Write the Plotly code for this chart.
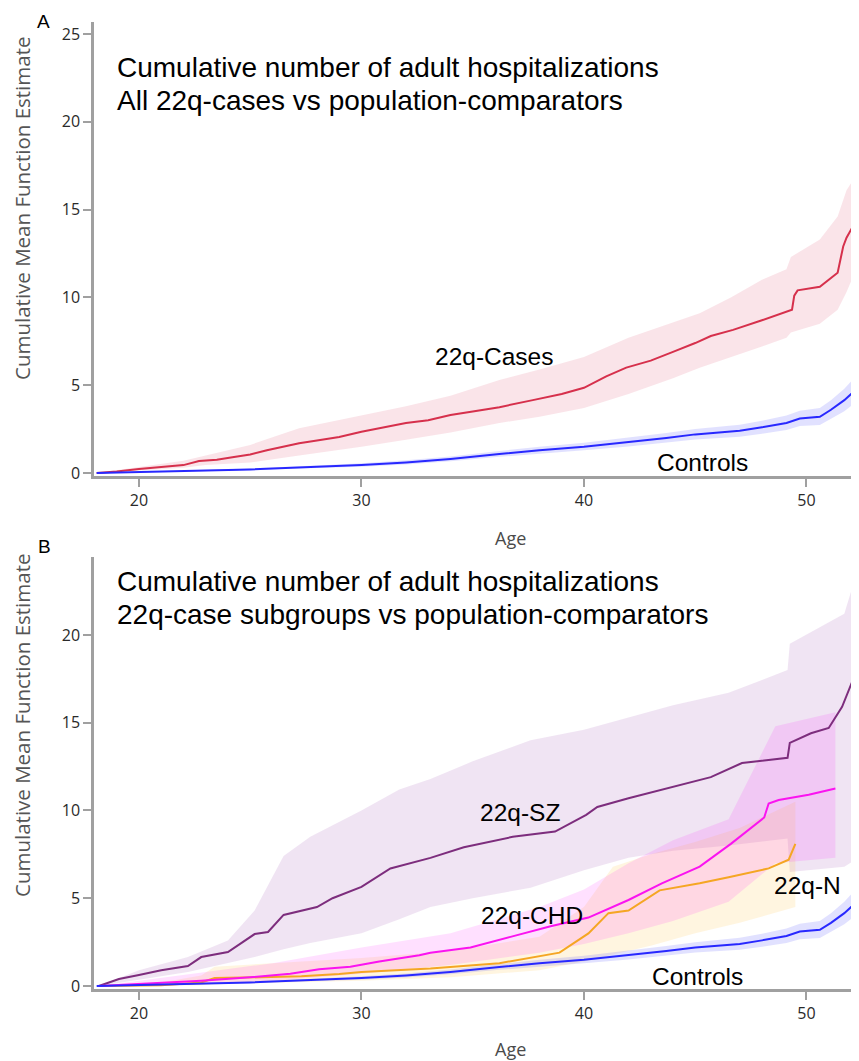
import plotly.graph_objects as go

# page is 859x1061; the html body has an 8px margin, so the figure is 8px smaller on each axis
OFF = 8
W, H = 859 - OFF, 1061 - OFF

# ---------------- Panel A data ----------------
cases_age = [18.1, 19, 20, 21, 22, 22.7, 23.5, 24.2, 25, 25.75, 26.5, 27.2, 28, 29, 30, 31, 32, 33, 34, 35,
             36.2, 37.7, 39, 40, 41, 41.9, 43, 44, 45, 45.7, 46.7, 48, 49.1, 49.35, 49.45, 49.6, 50.6, 51.2,
             51.4, 51.65, 51.8, 52.2]
cases_mean = [0, 0.08, 0.23, 0.32, 0.45, 0.68, 0.75, 0.9, 1.05, 1.3, 1.5, 1.7, 1.85, 2.05, 2.35, 2.6, 2.85, 3.0,
              3.3, 3.5, 3.75, 4.15, 4.5, 4.85, 5.5, 6.0, 6.4, 6.9, 7.4, 7.8, 8.15, 8.7, 9.2, 9.3, 10.1, 10.4,
              10.6, 11.2, 11.4, 12.9, 13.4, 14.3]
cases_band_age = [18.1, 20, 22, 23, 25, 27.2, 30, 32, 34, 36.2, 38, 40, 42, 44, 45.2, 46.6, 48, 49.1, 49.3,
                  50.6, 51.4, 51.8, 52.2]
cases_upper = [0, 0.35, 0.7, 1.0, 1.6, 2.55, 3.3, 3.8, 4.4, 5.3, 5.9, 6.6, 7.7, 8.6, 9.1, 10.0, 11.0, 11.6,
               12.3, 13.3, 14.6, 16.1, 16.9]
cases_lower = [0, 0.15, 0.3, 0.45, 0.6, 1.0, 1.5, 1.9, 2.3, 2.85, 3.2, 3.7, 4.5, 5.4, 6.0, 6.6, 7.2, 7.7, 8.0,
               8.5, 9.3, 10.3, 11.5]

ctrl_age = [18.1, 20, 22, 25, 28, 30, 32, 34, 36.2, 38, 40, 42, 43.7, 45, 47, 48, 49.1, 49.7, 50.6, 51.1, 51.7, 52.35]
ctrl_mean = [0, 0.05, 0.1, 0.2, 0.35, 0.45, 0.6, 0.8, 1.08, 1.3, 1.5, 1.75, 2.0, 2.2, 2.4, 2.6, 2.85, 3.1, 3.2,
             3.6, 4.15, 4.9]
ctrl_upper = [0, 0.07, 0.14, 0.26, 0.43, 0.55, 0.72, 0.94, 1.25, 1.5, 1.72, 2.0, 2.28, 2.5, 2.75, 2.98, 3.28,
              3.55, 3.7, 4.15, 4.8, 5.7]
ctrl_lower = [0, 0.03, 0.07, 0.15, 0.28, 0.36, 0.49, 0.67, 0.92, 1.11, 1.29, 1.51, 1.73, 1.91, 2.07, 2.24, 2.45,
              2.67, 2.73, 3.07, 3.52, 4.15]

# ---------------- Panel B data ----------------
sz_age = [18.2, 19.1, 20, 21, 22.2, 22.8, 24, 25.2, 25.8, 26.5, 28, 28.7, 30, 31.3, 33.1, 34.6, 36.8, 38.7,
          40.1, 40.6, 42, 43.5, 45, 45.7, 47.1, 49.15, 49.25, 50.2, 51, 51.6, 52.2]
sz_mean = [0, 0.4, 0.63, 0.9, 1.14, 1.65, 1.94, 2.96, 3.08, 4.05, 4.5, 5.0, 5.65, 6.7, 7.3, 7.9, 8.5, 8.8, 9.75,
           10.2, 10.7, 11.2, 11.7, 11.9, 12.7, 13.0, 13.85, 14.4, 14.7, 15.9, 17.8]
sz_band_age = [18.2, 20, 22.2, 24, 25.2, 26.5, 27.7, 30, 31.7, 33.1, 35, 37.6, 40, 42, 44, 46.5, 49.15, 49.25,
               51.7, 52.2]
sz_upper = [0, 0.9, 1.65, 2.6, 4.3, 7.4, 8.5, 10.0, 11.2, 11.8, 12.8, 14.0, 14.6, 15.3, 16.0, 16.7, 18.0, 19.5,
            21.2, 23.3]
sz_lower = [0, 0.35, 0.8, 1.3, 1.65, 2.1, 2.45, 3.0, 3.8, 4.5, 5.0, 5.6, 6.6, 7.3, 7.7, 8.0, 8.4, 6.5, 6.8, 7.2]

chd_age = [18.2, 21, 22.8, 25, 26.8, 28.1, 29.5, 30.8, 32.6, 33.1, 34.9, 36.7, 38.5, 40.2, 42, 43.5, 45.2, 46.6,
           48.1, 48.3, 48.75, 50.1, 51.3]
chd_mean = [0, 0.17, 0.3, 0.5, 0.7, 0.95, 1.1, 1.4, 1.75, 1.9, 2.2, 2.8, 3.4, 3.9, 4.9, 5.85, 6.8, 8.1, 9.6,
            10.4, 10.6, 10.9, 11.25]
chd_band_age = [18.2, 21, 23, 26, 30, 34, 38, 40, 42, 44, 46.5, 48.6, 51.3]
chd_upper = [0, 0.45, 0.8, 1.3, 2.2, 3.0, 4.5, 5.5, 7.0, 8.3, 9.5, 14.8, 15.6]
chd_lower = [0, 0.03, 0.1, 0.3, 0.7, 1.2, 1.9, 2.4, 3.0, 3.7, 4.8, 7.0, 7.3]

n_age = [18.2, 21, 22.8, 23.4, 25.5, 27.3, 29, 30, 33.1, 36.2, 38.9, 40.2, 41.1, 42, 43.4, 45.2, 46.5, 48.3,
         49.2, 49.5]
n_mean = [0, 0.05, 0.2, 0.45, 0.5, 0.55, 0.68, 0.8, 1.0, 1.3, 1.9, 3.0, 4.15, 4.3, 5.45, 5.85, 6.2, 6.7, 7.2, 8.1]
n_band_age = [18.2, 21, 22.8, 23.4, 26, 30, 34, 38, 40, 41.3, 43, 45, 47, 49.5]
n_upper = [0, 0.2, 0.6, 1.1, 1.3, 1.6, 2.0, 2.8, 4.5, 6.8, 7.5, 8.2, 9.0, 10.5]
n_lower = [0, 0.02, 0.05, 0.1, 0.2, 0.3, 0.5, 0.9, 1.4, 1.8, 2.3, 3.0, 3.6, 4.5]

xticks = [20, 30, 40, 50]
yticks_A = [0, 5, 10, 15, 20, 25]
yticks_B = [0, 5, 10, 15, 20]

# ---------------- Styles ----------------
RED, RED_BAND = "rgb(214,48,76)", "rgba(220,50,85,0.13)"
BLUE, BLUE_BAND = "rgb(40,40,255)", "rgba(70,70,255,0.16)"
SZ, SZ_BAND = "rgb(125,45,125)", "rgba(165,95,185,0.17)"
CHD, CHD_BAND = "rgb(250,20,240)", "rgba(255,0,255,0.12)"
NCOL, N_BAND = "rgb(245,166,35)", "rgba(255,190,60,0.16)"

fig = go.Figure()


def band(x, lo, hi, color, xa, ya):
    fig.add_trace(go.Scatter(x=list(x) + list(x)[::-1], y=list(hi) + list(lo)[::-1], fill="toself",
                             fillcolor=color, line=dict(width=0), mode="lines", hoverinfo="skip",
                             showlegend=False, xaxis=xa, yaxis=ya))


def line(x, y, color, xa, ya):
    fig.add_trace(go.Scatter(x=x, y=y, mode="lines", line=dict(color=color, width=2),
                             showlegend=False, xaxis=xa, yaxis=ya))


# Panel A
band(cases_band_age, cases_lower, cases_upper, RED_BAND, "x", "y")
band(ctrl_age, ctrl_lower, ctrl_upper, BLUE_BAND, "x", "y")
line(cases_age, cases_mean, RED, "x", "y")
line(ctrl_age, ctrl_mean, BLUE, "x", "y")

# Panel B
band(sz_band_age, sz_lower, sz_upper, SZ_BAND, "x2", "y2")
band(n_band_age, n_lower, n_upper, N_BAND, "x2", "y2")
band(chd_band_age, chd_lower, chd_upper, CHD_BAND, "x2", "y2")
band(ctrl_age, ctrl_lower, ctrl_upper, BLUE_BAND, "x2", "y2")
line(sz_age, sz_mean, SZ, "x2", "y2")
line(n_age, n_mean, NCOL, "x2", "y2")
line(chd_age, chd_mean, CHD, "x2", "y2")
line(ctrl_age, ctrl_mean, BLUE, "x2", "y2")


# page-pixel -> paper coordinates
def px(x):
    return (x - OFF) / W


def py(y):
    return 1 - (y - OFF) / H


AX_COLOR = "#a0a0a0"
TICK_FONT = dict(family="Open Sans", size=16, color="#2a2a2a")
common_x = dict(showline=True, linecolor=AX_COLOR, linewidth=2.5, ticks="outside", ticklen=8,
                tickcolor=AX_COLOR, tickwidth=1.5, showgrid=False, zeroline=False, tickfont=TICK_FONT,
                tickvals=xticks, range=[17.98, 52.36], automargin=False)
common_y = dict(showline=True, linecolor=AX_COLOR, linewidth=2.5, ticks="outside", ticklen=8,
                tickcolor=AX_COLOR, tickwidth=1.5, showgrid=False, zeroline=False, tickfont=TICK_FONT,
                automargin=False)

fig.update_layout(
    width=W, height=H, margin=dict(l=0, r=0, t=0, b=0, autoexpand=False),
    plot_bgcolor="white", paper_bgcolor="white", showlegend=False,
    xaxis=dict(common_x, domain=[px(94), 1.0], anchor="y"),
    yaxis=dict(common_y, domain=[py(476), py(22)], anchor="x", range=[-0.17, 25.68], tickvals=yticks_A),
    xaxis2=dict(common_x, domain=[px(94), 1.0], anchor="y2"),
    yaxis2=dict(common_y, domain=[py(989), py(557)], anchor="x2", range=[-0.17, 24.44], tickvals=yticks_B),
)

ann = []


def text(t, x, y, size, family="Liberation Sans", color="black", xanchor="center", angle=0):
    ann.append(dict(text=t, x=px(x), y=py(y), xref="paper", yref="paper", showarrow=False,
                    xanchor=xanchor, yanchor="middle", textangle=angle, borderpad=0,
                    font=dict(family=family, size=size, color=color)))


TF = 28
text("Cumulative number of adult hospitalizations", 116, 68, TF, xanchor="left")
text("All 22q-cases vs population-comparators", 116, 101, TF, xanchor="left")
text("Cumulative number of adult hospitalizations", 116, 581, TF, xanchor="left")
text("22q-case subgroups vs population-comparators", 116, 614, TF, xanchor="left")

LF = 24.5
text("22q-Cases", 494, 356, LF)
text("Controls", 702, 462, LF)
text("22q-SZ", 520, 812, LF)
text("22q-CHD", 532, 915, LF)
text("22q-N", 807, 885, LF)
text("Controls", 697, 976, LF)

text("A", 43, 21, 19)
text("B", 44, 546, 19)

text("Age", 510, 538, 18, family="Open Sans", color="#4a4a4a")
text("Age", 510, 1049, 18, family="Open Sans", color="#4a4a4a")
text("Cumulative Mean Function Estimate", 22, 208, 20.5, family="Open Sans", color="#555555", angle=-90)
text("Cumulative Mean Function Estimate", 22, 725, 20.5, family="Open Sans", color="#555555", angle=-90)

fig.update_layout(annotations=ann)
fig.write_html("out.html")
